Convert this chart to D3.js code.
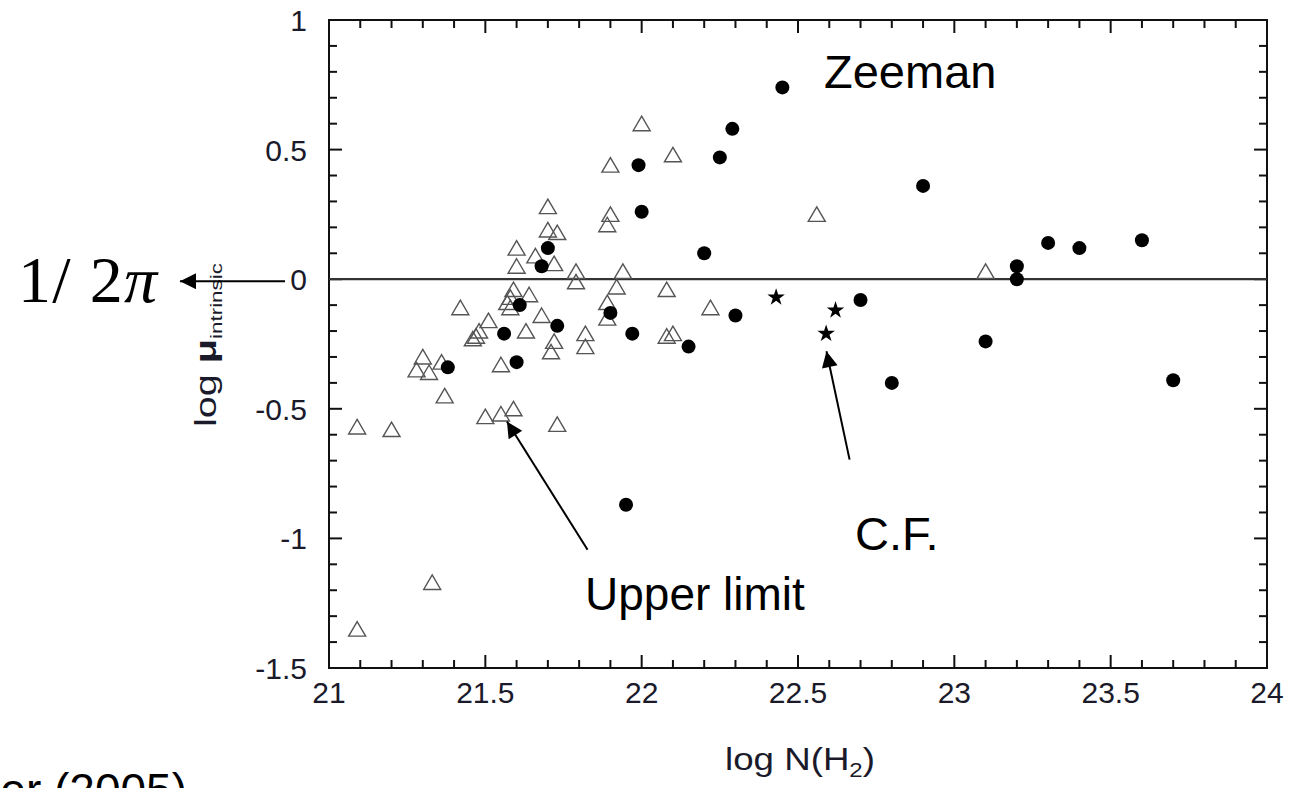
<!DOCTYPE html>
<html>
<head>
<meta charset="utf-8">
<script src="https://cdn.jsdelivr.net/npm/d3@7"></script>
<style>
  html, body { margin: 0; padding: 0; background: #fff; }
  svg { display: block; }
</style>
</head>
<body>
<svg id="chart" width="1303" height="788"></svg>
<script>
// ---- data ----
const upperLimitX = [21.09,21.20,21.09,21.33,21.50,21.55,21.59,21.73,21.37,21.30,21.28,21.32,21.36,21.55,21.42,21.51,21.48,21.47,21.46,21.63,21.68,21.72,21.71,21.82,21.82,21.59,21.58,21.57,21.58,21.64,21.60,21.60,21.66,21.72,21.70,21.73,21.70,21.79,21.79,21.89,21.89,21.94,21.92,21.90,21.89,21.90,22.00,22.10,22.08,22.22,22.10,22.08,22.56,23.10];
const upperLimitY = [-0.57,-0.58,-1.35,-1.17,-0.53,-0.52,-0.50,-0.56,-0.45,-0.30,-0.35,-0.36,-0.32,-0.33,-0.11,-0.16,-0.20,-0.22,-0.23,-0.20,-0.14,-0.24,-0.28,-0.21,-0.26,-0.04,-0.07,-0.09,-0.11,-0.06,0.05,0.12,0.09,0.06,0.19,0.18,0.28,0.03,-0.01,-0.09,-0.15,0.03,-0.03,0.25,0.21,0.44,0.60,0.48,-0.04,-0.11,-0.21,-0.22,0.25,0.03];
const zeemanX = [21.38,21.60,21.56,21.61,21.73,21.68,21.70,21.90,21.97,21.99,22.00,21.95,22.15,22.20,22.25,22.29,22.45,22.30,22.70,22.80,22.90,23.10,23.20,23.20,23.30,23.40,23.60,23.70];
const zeemanY = [-0.34,-0.32,-0.21,-0.10,-0.18,0.05,0.12,-0.13,-0.21,0.44,0.26,-0.87,-0.26,0.10,0.47,0.58,0.74,-0.14,-0.08,-0.40,0.36,-0.24,0.05,0.00,0.14,0.12,0.15,-0.39];
const cfX = [22.43,22.62,22.59];
const cfY = [-0.07,-0.12,-0.21];
const xTickLabels = ["21","21.5","22","22.5","23","23.5","24"];
const yTickLabels = ["-1.5","-1","-0.5","0","0.5","1"];

// ---- layout ----
const SANS = "'Liberation Sans', Arial, sans-serif";
const SERIF = "'Liberation Serif', 'Times New Roman', serif";
const svg = d3.select("#chart");
const W = 1303, H = 788;
const L = 329, R = 1267, T = 20, B = 668;
const x = d3.scaleLinear().domain([21, 24]).range([L, R]);
const y = d3.scaleLinear().domain([-1.5, 1]).range([B, T]);

svg.append("rect").attr("width", W).attr("height", H).attr("fill", "#fff");

const xMinor = d3.range(21, 24.0001, 0.1).map(v => +v.toFixed(1));
const yMinor = d3.range(-1.5, 1.0001, 0.1).map(v => +v.toFixed(1));
const isMajor = v => Math.abs(v * 2 - Math.round(v * 2)) < 1e-6;

const g = svg.append("g");
xMinor.forEach(v => {
  const len = isMajor(v) ? 13 : 8;
  g.append("line").attr("x1", x(v)).attr("x2", x(v)).attr("y1", B).attr("y2", B - len)
    .attr("stroke", "#111").attr("stroke-width", 2);
  g.append("line").attr("x1", x(v)).attr("x2", x(v)).attr("y1", T).attr("y2", T + len)
    .attr("stroke", "#111").attr("stroke-width", 2);
});
yMinor.forEach(v => {
  const len = isMajor(v) ? 13 : 8;
  g.append("line").attr("x1", L).attr("x2", L + len).attr("y1", y(v)).attr("y2", y(v))
    .attr("stroke", "#111").attr("stroke-width", 2);
  g.append("line").attr("x1", R).attr("x2", R - len).attr("y1", y(v)).attr("y2", y(v))
    .attr("stroke", "#111").attr("stroke-width", 2);
});
g.append("rect").attr("x", L).attr("y", T).attr("width", R - L).attr("height", B - T)
  .attr("fill", "none").attr("stroke", "#111").attr("stroke-width", 2);

g.append("line").attr("x1", L).attr("x2", R).attr("y1", y(0)).attr("y2", y(0))
  .attr("stroke", "#333").attr("stroke-width", 2.2);

// tick labels
const xTickVals = xTickLabels.map(Number);
svg.selectAll(".xt").data(xTickVals).enter().append("text")
  .attr("x", d => x(d)).attr("y", B + 35)
  .attr("text-anchor", "middle").style("font-family", SANS).style("font-size", "30px").attr("fill", "#1a1a2a")
  .text((d, i) => xTickLabels[i]);
const yTickVals = yTickLabels.map(Number);
svg.selectAll(".yt").data(yTickVals).enter().append("text")
  .attr("x", L - 22).attr("y", d => y(d) + 11)
  .attr("text-anchor", "end").style("font-family", SANS).style("font-size", "30px").attr("fill", "#1a1a2a")
  .text((d, i) => yTickLabels[i]);

// axis titles
const xt = svg.append("text").attr("x", 800).attr("y", 770).attr("text-anchor", "middle")
  .style("font-family", SANS).style("font-size", "32px").attr("fill", "#1a1a2a")
  .attr("textLength", 150).attr("lengthAdjust", "spacingAndGlyphs");
xt.append("tspan").text("log N(H");
xt.append("tspan").style("font-size", "21px").attr("dy", 7).text("2");
xt.append("tspan").attr("dy", -7).text(")");

const yt = svg.append("text").attr("transform", "translate(216,427) rotate(-90)")
  .style("font-family", SANS).style("font-size", "30px").attr("fill", "#1a1a2a")
  .attr("textLength", 164).attr("lengthAdjust", "spacingAndGlyphs");
yt.append("tspan").text("log ");
yt.append("tspan").attr("font-weight", "bold").text("μ");
yt.append("tspan").style("font-size", "17px").attr("dy", 6).text("intrinsic");

// ---- marks ----
const triPath = "M0,-7.5L8.5,7L-8.5,7Z";
svg.append("g").selectAll("path").data(upperLimitX.map((v, i) => [v, upperLimitY[i]])).enter()
  .append("path").attr("d", triPath)
  .attr("transform", d => `translate(${x(d[0])},${y(d[1])})`)
  .attr("fill", "none").attr("stroke", "#555").attr("stroke-width", 1.4);

svg.append("g").selectAll("circle").data(zeemanX.map((v, i) => [v, zeemanY[i]])).enter()
  .append("circle").attr("cx", d => x(d[0])).attr("cy", d => y(d[1])).attr("r", 7)
  .attr("fill", "#000");

const star = d3.symbol().type(d3.symbolStar).size(95);
svg.append("g").selectAll("path").data(cfX.map((v, i) => [v, cfY[i]])).enter()
  .append("path").attr("d", star())
  .attr("transform", d => `translate(${x(d[0])},${y(d[1])})`)
  .attr("fill", "#000");

// ---- annotations ----
const defs = svg.append("defs");
defs.append("marker").attr("id", "ah2").attr("viewBox", "0 0 10 10").attr("refX", 10).attr("refY", 5)
  .attr("markerWidth", 18).attr("markerHeight", 16).attr("markerUnits", "userSpaceOnUse")
  .attr("orient", "auto")
  .append("path").attr("d", "M0,0L10,5L0,10Z").attr("fill", "#000");

function arrow(x1, y1, x2, y2, m) {
  svg.append("line").attr("x1", x1).attr("y1", y1).attr("x2", x2).attr("y2", y2)
    .attr("stroke", "#000").attr("stroke-width", 2).attr("marker-end", `url(#${m})`);
}
arrow(x(21.827), y(-1.044), x(21.569), y(-0.549), "ah2");
arrow(x(22.665), y(-0.696), x(22.591), y(-0.278), "ah2");
arrow(L - 44, y(0) + 2, 180, y(0) + 2, "ah2");

svg.append("text").attr("x", 824).attr("y", 88).style("font-family", SANS).style("font-size", "47px").attr("fill", "#000").text("Zeeman");
svg.append("text").attr("x", 585).attr("y", 610).style("font-family", SANS).style("font-size", "46px").attr("fill", "#000").text("Upper limit");
svg.append("text").attr("x", 855).attr("y", 550).style("font-family", SANS).style("font-size", "47px").attr("fill", "#000").text("C.F.");
const half = svg.append("text").attr("x", 18).attr("y", 302).style("font-family", SERIF)
  .style("font-size", "66px").attr("textLength", 139).attr("lengthAdjust", "spacing").attr("fill", "#000");
half.append("tspan").text("1/ 2");
half.append("tspan").style("font-style", "italic").text("π");
svg.append("text").attr("x", 187).attr("y", 806).attr("text-anchor", "end").style("font-family", SANS).style("font-size", "46px")
  .attr("fill", "#000").text("Crutcher (2005)");
</script>
</body>
</html>
